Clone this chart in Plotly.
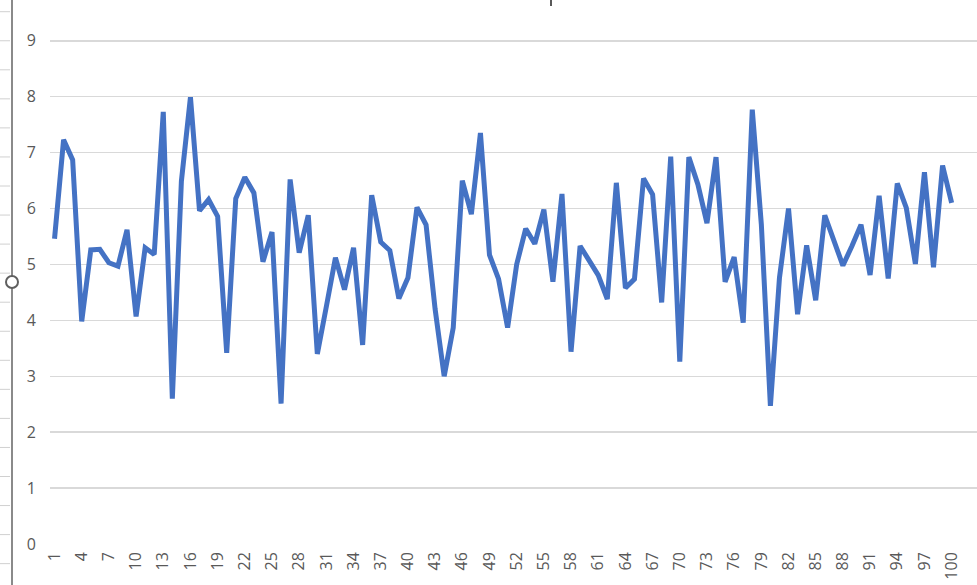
import plotly.graph_objects as go

# ---- data ----
categories = list(range(1, 101))
values = [
    5.46, 7.23, 6.87, 3.98, 5.26, 5.27, 5.03, 4.97, 5.62, 4.07,
    5.30, 5.18, 7.73, 2.60, 6.49, 7.99, 5.96, 6.16, 5.86, 3.42,
    6.18, 6.56, 6.28, 5.05, 5.58, 2.51, 6.52, 5.21, 5.88, 3.40,
    4.25, 5.12, 4.55, 5.30, 3.56, 6.24, 5.40, 5.25, 4.39, 4.76,
    6.02, 5.71, 4.20, 3.00, 3.87, 6.50, 5.90, 7.35, 5.17, 4.74,
    3.87, 5.00, 5.64, 5.37, 5.98, 4.69, 6.26, 3.44, 5.33, 5.06,
    4.81, 4.38, 6.46, 4.58, 4.74, 6.54, 6.25, 4.32, 6.93, 3.26,
    6.92, 6.43, 5.74, 6.92, 4.69, 5.13, 3.96, 7.77, 5.72, 2.47,
    4.76, 6.00, 4.11, 5.34, 4.36, 5.88, 5.42, 4.98, 5.33, 5.71,
    4.81, 6.23, 4.75, 6.45, 6.01, 5.01, 6.65, 4.95, 6.77, 6.10,
]
x_tick_vals = list(range(1, 104, 3))
x_tick_text = [str(v) for v in x_tick_vals]
y_tick_vals = list(range(0, 10))

W, H = 977, 585
L, R, T, B = 50, 0, 0, 41

fig = go.Figure()
fig.add_trace(go.Scatter(
    x=categories, y=values, mode="lines",
    line=dict(color="#4472C4", width=5),
    hoverinfo="skip", showlegend=False,
))

font = dict(family="Open Sans, Noto Sans, sans-serif", size=16, color="#595959")

fig.update_layout(
    width=W, height=H,
    margin=dict(l=L, r=R, t=T, b=B, pad=0, autoexpand=False),
    paper_bgcolor="white", plot_bgcolor="white",
    xaxis=dict(
        range=[0.5, 102.8], tickmode="array", tickvals=x_tick_vals, ticktext=x_tick_text,
        tickangle=-90, tickfont=font, showgrid=False, zeroline=False, showline=False,
        ticks="", ticklabelstandoff=4, automargin=False,
    ),
    yaxis=dict(
        range=[0, 9.73], tickmode="array", tickvals=y_tick_vals,
        tickfont=font, showgrid=True, gridcolor="#D9D9D9", gridwidth=1.5,
        zeroline=False, showline=False, ticks="", ticklabelstandoff=13,
        automargin=False,
    ),
)

# ---- screenshot decorations (sheet edge, row borders, handle) ----
pw, ph = W - L - R, H - T - B
def px(x):
    return (x - L) / pw
def py(y):
    return (H - B - y) / ph

shapes = []
k = 0
while True:
    yy = 11.7 + k * 29.05
    if yy > H:
        break
    shapes.append(dict(type="line", xref="paper", yref="paper",
                       x0=px(0), x1=px(10), y0=py(yy), y1=py(yy),
                       line=dict(color="#D0D0D0", width=1)))
    k += 1
shapes.append(dict(type="line", xref="paper", yref="paper",
                   x0=px(12), x1=px(12), y0=py(0), y1=py(H),
                   line=dict(color="#8A8A8A", width=2)))
shapes.append(dict(type="circle", xref="paper", yref="paper",
                   x0=px(6), x1=px(18), y0=py(276), y1=py(288),
                   fillcolor="white", line=dict(color="#5F5F5F", width=2)))
shapes.append(dict(type="line", xref="paper", yref="paper",
                   x0=px(551), x1=px(551), y0=py(0), y1=py(6),
                   line=dict(color="#595959", width=2)))
fig.update_layout(shapes=shapes)

fig.write_html(
    "out.html",
    config={"displayModeBar": False, "staticPlot": True},
    post_script="document.body.style.margin='0';document.body.style.overflow='hidden';",
)
